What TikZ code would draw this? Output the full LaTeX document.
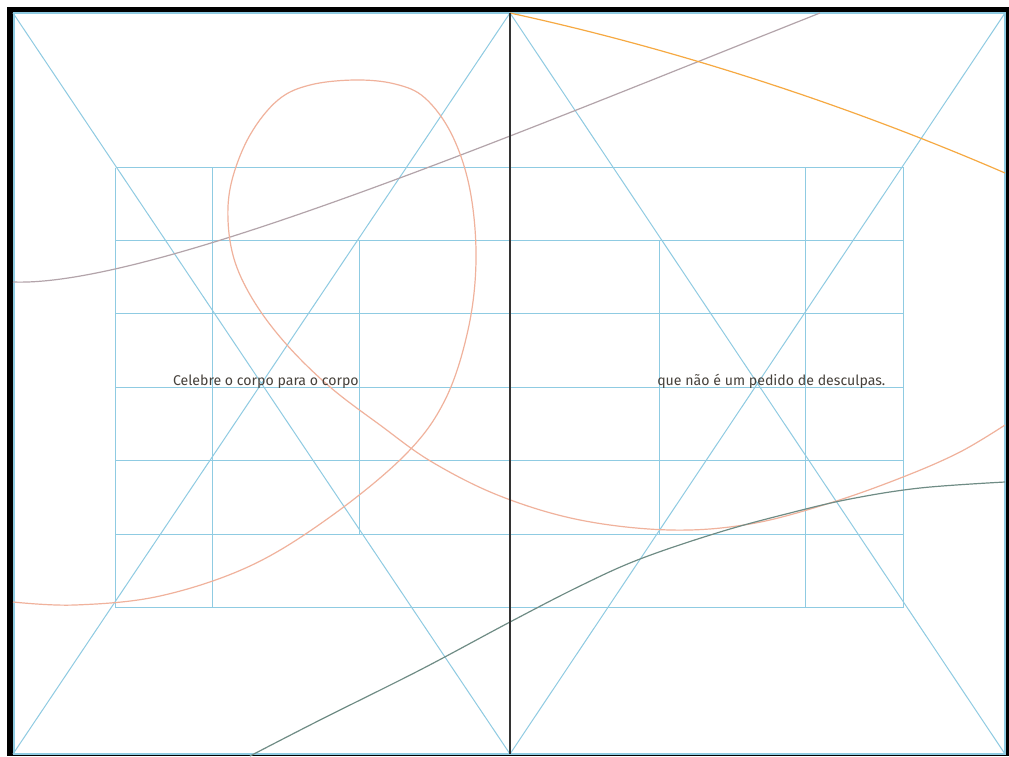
\documentclass[tikz,border=0pt]{standalone}
\usepackage{fontspec}
\setmainfont{Fira Sans}
\definecolor{gridblue}{HTML}{8FCBE2}
\definecolor{salmon}{HTML}{F0B29C}
\definecolor{mauve}{HTML}{B3A4AA}
\definecolor{amber}{HTML}{F6A942}
\definecolor{sage}{HTML}{6F8C85}
\definecolor{ink}{HTML}{46413B}

\begin{document}
\begin{tikzpicture}[x=0.75pt,y=-0.75pt,
    grid/.style={gridblue, line width=0.75pt},
    curve/.style={line width=0.9pt},
    caption/.style={font=\fontsize{10.6}{12}\selectfont, text=ink, inner sep=0pt}]
    \useasboundingbox (0,0) rectangle (1009,756);
    % frame
    \fill[white] (0,0) rectangle (1009,756);
    \fill[black] (7,7) rectangle (1009,756);
    \fill[white] (13,13) rectangle (1005,754);
    \draw[gridblue, line width=1.5pt] (13.5,13.5) rectangle (1004.5,754);
    % page corners
    \coordinate (tl) at (13,13);
    \coordinate (tm) at (510,13);
    \coordinate (tr) at (1005,13);
    \coordinate (bl) at (13,754);
    \coordinate (bm) at (510,754);
    \coordinate (br) at (1005,754);
    % diagonals
    \draw[grid] (tl)--(bm) (tm)--(bl);
    \draw[grid] (tm)--(br) (tr)--(bm);
    % text block grid
    \begin{scope}[shift={(0.5,0.5)}]
    \foreach \y in {167,240,313,387,460,534,607}
        \draw[grid] (115,\y)--(903,\y);
    \foreach \x in {115,212,510,805,903}
        \draw[grid] (\x,167)--(\x,607);
    \foreach \x in {359,659}
        \draw[grid] (\x,240)--(\x,534);
    \end{scope}
    % curves
    \draw[curve, mauve] (13,282) .. controls (150,287) and (500,140) .. (820,13);
    \draw[curve, amber] (510,13) .. controls (680,50) and (850,106) .. (1005,173);
    \draw[curve, salmon] plot[smooth, tension=0.6] coordinates {
        (13,602) (75,605) (160,596) (250,566) (330,517) (405,455)
        (445,400) (468,330) (476,260) (470,190) (452,135) (425,98) (395,84)
        (355,80) (310,85) (278,100) (250,135) (232,180) (228,220) (235,262)
        (255,303) (287,345) (330,387) (380,425) (432,462) (500,496) (580,520)
        (670,530) (750,524) (830,503) (903,477) (960,452) (1005,425)};
    \draw[curve, sage] plot[smooth, tension=0.6] coordinates {
        (250,756) (320,720) (420,670) (510,622) (580,586) (640,559) (720,532)
        (790,513) (850,499) (920,488) (1005,482)};
    % spine
    \draw[black!80, line width=0.8pt] (tm)--(bm);
    % captions
    \node[caption, anchor=base east] (left) at (359,385) {Celebre o corpo para o corpo};
    \node[caption, anchor=base west] (right) at (657,385) {que não é um pedido de desculpas.};
\end{tikzpicture}
\end{document}
